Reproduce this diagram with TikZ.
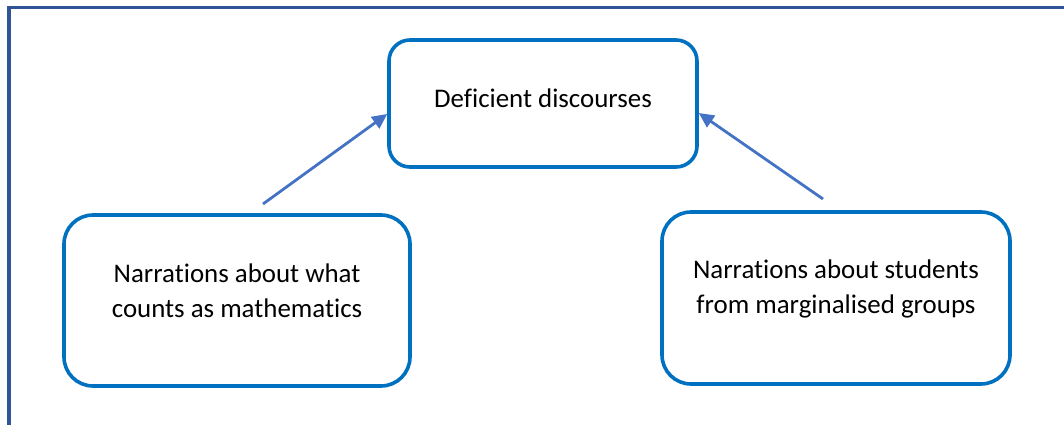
\documentclass[tikz,border=0pt]{standalone}
\usepackage{fontspec}
\setmainfont{Carlito}[Ligatures=NoCommon]
\usetikzlibrary{arrows.meta}
\definecolor{boxblue}{HTML}{0070C0}
\definecolor{arrowblue}{HTML}{4472C4}
\definecolor{frameblue}{HTML}{2F5597}
\tikzset{
  roundbox/.style={draw=boxblue, line width=3.6pt, fill=white, inner sep=0pt},
  boxtext/.style={align=center, inner sep=0pt, font=\fontsize{26.9}{35}\selectfont},
  linkarrow/.style={draw=arrowblue, line width=2.8pt, -{Triangle[length=15pt,width=14pt]}},
  framestyle/.style={draw=frameblue, line width=3.2pt}
}
\begin{document}
\begin{tikzpicture}[x=1pt, y=-1pt]
  \useasboundingbox (0,0) rectangle (1064,425);
  % page frame: top and left rules
  \coordinate (fbl) at (9,426);
  \coordinate (ftl) at (9,7.5);
  \coordinate (ftr) at (1065,7.5);
  \draw[framestyle] (fbl) -- (ftl) -- (ftr);

  % boxes
  \node[roundbox, rounded corners=21pt, minimum width=308pt, minimum height=127pt] (top) at (543,103.5) {};
  \node[roundbox, rounded corners=29pt, minimum width=346pt, minimum height=171pt] (left) at (237,300.5) {};
  \node[roundbox, rounded corners=29pt, minimum width=348pt, minimum height=172pt] (right) at (836,298) {};

  % box texts
  \node[boxtext, anchor=base] (toptxt) at (543,107) {Deficient discourses};
  \node[boxtext] (lefttxt) at (237,290.3) {Narrations about what\\counts as mathematics};
  \node[boxtext] (righttxt) at (836,289) {Narrations about students\\from marginalised groups};

  % connectors
  \coordinate (lstart) at (263,204);
  \coordinate (rstart) at (823,199);
  \draw[linkarrow] (lstart) -- ([yshift=-10.5pt]top.west);
  \draw[linkarrow] (rstart) -- ([yshift=-9.5pt]top.east);
\end{tikzpicture}
\end{document}
